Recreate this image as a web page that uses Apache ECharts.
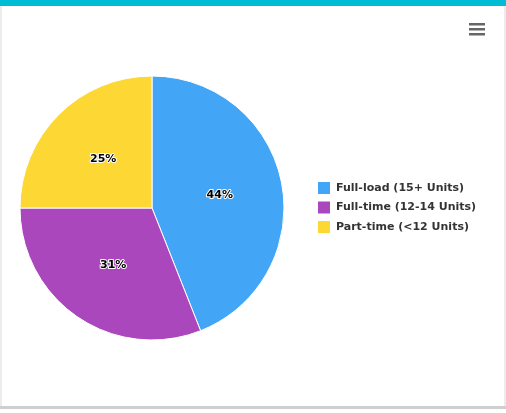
<!DOCTYPE html>
<html><head><meta charset="utf-8">
<script src="https://cdn.jsdelivr.net/npm/echarts@6/dist/echarts.min.js"></script>
<style>html,body{margin:0;padding:0;background:#fff}#c{width:506px;height:413px}</style>
</head><body><div id="c"></div>
<script>
const categories = ['Full-load (15+ Units)', 'Full-time (12-14 Units)', 'Part-time (<12 Units)'];
const values = [44, 31, 25];
const colors = ['#42A5F5', '#AB47BC', '#FDD835'];

const chart = echarts.init(document.getElementById('c'), null, {renderer: 'canvas'});
chart.setOption({
  animation: false,
  backgroundColor: '#fff',
  graphic: [
    {type: 'rect', shape: {x: 0, y: 0, width: 506, height: 6}, style: {fill: '#00BCD4'}, z: 10},
    {type: 'rect', shape: {x: 0, y: 6, width: 2, height: 402}, style: {fill: '#ececec'}, z: 10},
    {type: 'rect', shape: {x: 504, y: 6, width: 2, height: 402}, style: {fill: '#ececec'}, z: 10},
    {type: 'rect', shape: {x: 0, y: 406, width: 506, height: 3}, style: {fill: '#cfcfcf'}, z: 10},
    {type: 'rect', shape: {x: 469, y: 23, width: 16, height: 2.5}, style: {fill: '#666'}, z: 10},
    {type: 'rect', shape: {x: 469, y: 28, width: 16, height: 2.5}, style: {fill: '#666'}, z: 10},
    {type: 'rect', shape: {x: 469, y: 33, width: 16, height: 2.5}, style: {fill: '#666'}, z: 10}
  ],
  legend: {
    orient: 'vertical',
    left: 311,
    top: 175,
    itemWidth: 14,
    itemHeight: 14,
    itemGap: 3.5,
    icon: 'rect',
    textStyle: {fontFamily: 'DejaVu Sans', fontWeight: 'bold', fontSize: 11, lineHeight: 14, color: '#333'},
    data: categories
  },
  series: [{
    type: 'pie',
    center: [152, 208],
    radius: [0, 132],
    startAngle: 90,
    clockwise: true,
    color: colors,
    itemStyle: {borderColor: '#fff', borderWidth: 1},
    label: {
      position: 'inside',
      formatter: '{d}%',
      fontFamily: 'DejaVu Sans', fontWeight: 'bold', fontSize: 11,
      color: '#000', textBorderColor: '#fff', textBorderWidth: 2
    },
    labelLine: {show: false},
    data: categories.map((n, i) => ({name: n, value: values[i]}))
  }]
});
</script></body></html>
